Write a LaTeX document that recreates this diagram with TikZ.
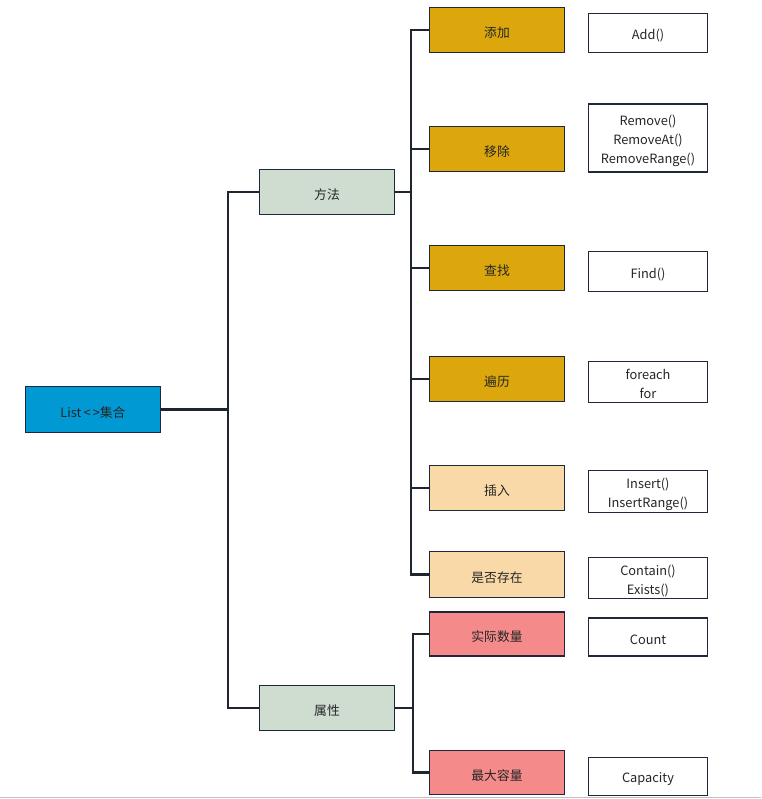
\documentclass[tikz,border=0pt]{standalone}
\usepackage{fontspec}
\setmainfont{Noto Sans CJK SC}
\newcommand\dn[1]{\raisebox{-2.1pt}[\height][\depth]{#1}}
\newcommand\ml[1]{\dn{\renewcommand\arraystretch{1.03}\begin{tabular}{@{}c@{}}#1\end{tabular}}}
\begin{document}
\begin{tikzpicture}[x=0.75pt,y=-0.75pt,
  every node/.style={font=\fontsize{9.6}{14}\selectfont, text=black!85},
  base/.style={draw=bordercol, line width=0.8pt, rectangle, align=center, inner sep=1pt},
  lvl/.style={base, minimum width=101pt, minimum height=34pt},
  leaf/.style={base, fill=white, minimum width=89.5pt},
  bluebox/.style={lvl, fill=bluecol},
  greenbox/.style={lvl, fill=greencol},
  goldbox/.style={lvl, fill=goldcol},
  peachbox/.style={lvl, fill=peachcol},
  pinkbox/.style={lvl, fill=pinkcol, minimum height=33pt},
  conn/.style={draw=linecol, line width=1.6pt}
]
\definecolor{bordercol}{HTML}{1E2838}
\definecolor{linecol}{HTML}{1E2430}
\definecolor{bluecol}{HTML}{0099D4}
\definecolor{greencol}{HTML}{CFDCD0}
\definecolor{goldcol}{HTML}{DBA70D}
\definecolor{peachcol}{HTML}{FAD9A8}
\definecolor{pinkcol}{HTML}{F48A8A}
\useasboundingbox (0,0) rectangle (761,799);

% level 0
\node[bluebox] (list) at (93,409.5) {\dn{List\,<\,>集合}};
% level 1
\node[greenbox] (ff) at (327,192) {\dn{方法}};
\node[greenbox] (sx) at (327,708) {\dn{属性}};
% level 2
\node[goldbox] (tj) at (497,30) {\dn{添加}};
\node[goldbox] (yc) at (497,149) {\dn{移除}};
\node[goldbox] (cz) at (497,268) {\dn{查找}};
\node[goldbox] (bl) at (497,379) {\dn{遍历}};
\node[peachbox] (cr) at (497,488) {\dn{插入}};
\node[peachbox] (sf) at (497,574.5) {\dn{是否存在}};
\node[pinkbox] (sj) at (497,634) {\dn{实际数量}};
\node[pinkbox] (zd) at (497,772.5) {\dn{最大容量}};
% leaves
\node[leaf, minimum height=29.5pt] (l1) at (648,33) {\dn{Add()}};
\node[leaf, minimum height=51pt] (l2) at (648,138) {\ml{Remove()\\RemoveAt()\\RemoveRange()}};
\node[leaf, minimum height=29.5pt] (l3) at (648,271.5) {\dn{Find()}};
\node[leaf, minimum height=29.5pt] (l4) at (648,382) {\ml{foreach\\for}};
\node[leaf, minimum height=29.5pt] (l5) at (648,491.5) {\ml{Insert()\\InsertRange()}};
\node[leaf, minimum height=29.5pt] (l6) at (648,578) {\ml{Contain()\\Exists()}};
\node[leaf, minimum height=28.5pt] (l7) at (648,637) {\dn{Count}};
\node[leaf, minimum height=29pt] (l8) at (648,776.5) {\dn{Capacity}};

% connectors
\coordinate (b1) at (228,409.5);
\coordinate (b2) at (411,192);
\coordinate (b3) at (413,708);
\draw[conn] (list.east) -- (b1);
\draw[conn] (ff.west) -| (b1) |- (sx.west);
\draw[conn] (ff.east) -- (b2);
\foreach \c in {tj,yc,cz,bl,cr,sf} { \draw[conn] (b2) |- (\c.west); }
\draw[conn] (sx.east) -- (b3);
\draw[conn] (b3) |- (sj.west);
\draw[conn] (b3) |- (zd.west);
% bottom edge line
\draw[black!25, line width=1pt] (0,797.5) -- (761,797.5);
\end{tikzpicture}
\end{document}
